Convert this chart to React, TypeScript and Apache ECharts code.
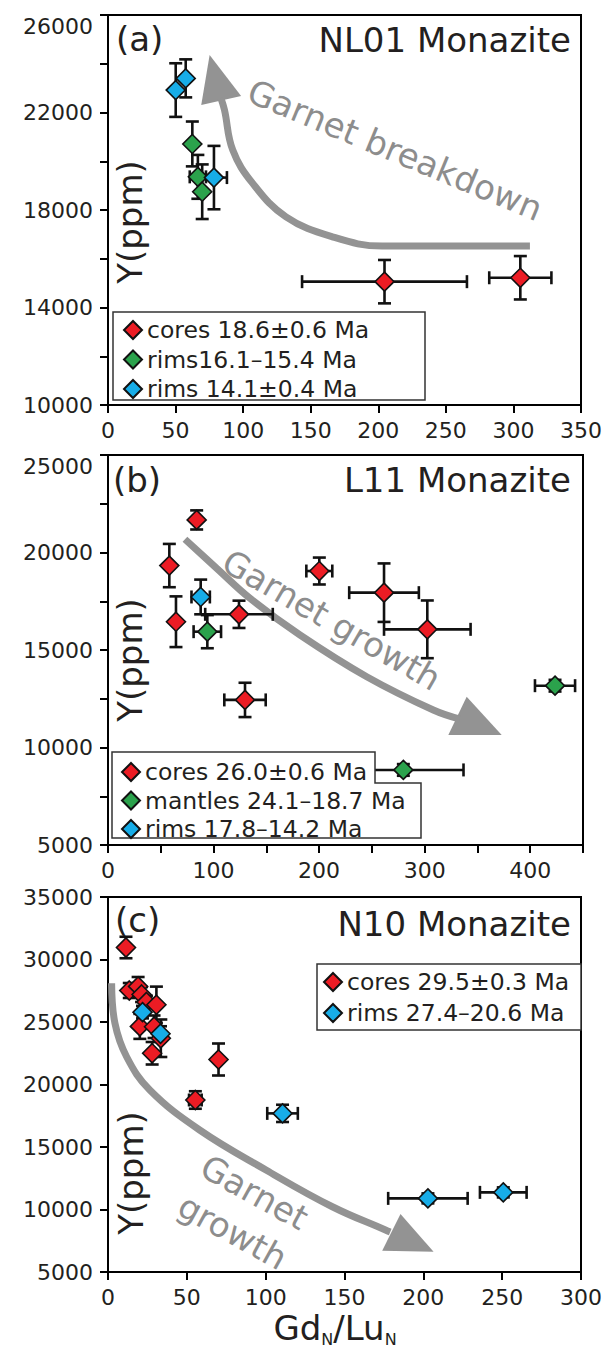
import React, { useEffect, useRef } from "react";
import * as echarts from "echarts";

const FONT = "DejaVu Sans";
const INK = "#231f20";
const RED = "#ec1c24";
const GREEN = "#2ba24c";
const BLUE = "#17ade8";
const ARROW = "#939393";
const ARROW_TEXT = "#8d8d8d";

// rows: [GdN/LuN, Y (ppm), ±GdN/LuN, ±Y]
// ---- (a) NL01 Monazite
const aCoresName = "cores 18.6±0.6 Ma";
const aRimsGName = "rims16.1–15.4 Ma";
const aRimsBName = "rims 14.1±0.4 Ma";
const aCores = [
  [204.6, 15060, 61, 890],
  [305.1, 15220, 23, 890],
];
const aRimsG = [
  [62.4, 20710, 0, 920],
  [66.5, 19360, 6, 900],
  [69.7, 18750, 0, 1120],
];
const aRimsB = [
  [50.1, 22920, 0, 1100],
  [57.5, 23400, 0, 780],
  [78.4, 19330, 9.6, 1300],
];
const aArrow = [
  [312.2, 16520], [202.9, 16520], [166, 16900], [131.7, 17720],
  [107.1, 19090], [92.3, 20460], [86.2, 22100], [83.5, 22600],
];
const aArrowHead = [[75.2, 24360], [69, 22310], [98.5, 22680]];
const aArrowLabel = { text: "Garnet breakdown", at: [212.5, 20460], angle: -22.5 };

// ---- (b) L11 Monazite
const bCoresName = "cores 26.0±0.6 Ma";
const bMantlesName = "mantles 24.1–18.7 Ma";
const bRimsName = "rims 17.8–14.2 Ma";
const bCores = [
  [84.0, 21670, 0, 490],
  [58.1, 19330, 0, 1110],
  [64.4, 16450, 0, 1300],
  [124.1, 16830, 32, 700],
  [129.8, 12440, 19.6, 880],
  [200.2, 19050, 12.3, 690],
  [261.5, 17940, 33, 1500],
  [302.5, 16060, 41, 1480],
];
const bMantles = [
  [94.1, 15940, 13, 850],
  [423.5, 13170, 19, 300],
  [279.8, 8850, 57, 300],
];
const bRims = [[87.8, 17720, 8.7, 890]];
const bArrow = [
  [72.9, 20680], [103, 19190], [134.5, 17650], [181.9, 15770],
  [245.1, 13630], [308.2, 11920], [333.5, 11450],
];
const bArrowHead = [[339.8, 12600], [373, 10640], [322.4, 10640]];
const bArrowLabel = { text: "Garnet growth", at: [212, 16540], angle: -30 };

// ---- (c) N10 Monazite
const cCoresName = "cores 29.5±0.3 Ma";
const cRimsName = "rims 27.4–20.6 Ma";
const cCores = [
  [11.4, 30960, 0, 860],
  [13.5, 27520, 0, 600],
  [19.1, 27850, 0, 750],
  [21.3, 27200, 0, 600],
  [24.4, 26600, 0, 500],
  [30.7, 26380, 0, 1450],
  [20.2, 24650, 0, 1000],
  [29.2, 24620, 0, 900],
  [33.5, 23700, 0, 1500],
  [28.0, 22500, 0, 900],
  [70.1, 22000, 0, 1280],
  [55.4, 18760, 4, 700],
];
const cRims = [
  [21.9, 25790, 0, 500],
  [33.3, 24060, 0, 600],
  [110.7, 17690, 9.7, 690],
  [202.9, 10890, 25.2, 400],
  [250.7, 11370, 14.8, 400],
];
const cArrow = [
  [2.3, 28100], [4.4, 24900], [11.8, 22220], [26.5, 19560], [58.1, 16360],
  [100.2, 13160], [142.3, 10220], [176, 8360], [179, 8200],
];
const cArrowHead = [[185.5, 9640], [206.5, 6620], [173.9, 6700]];
const cArrowLabel = { text: "Garnet\ngrowth", at: [86, 9800], angle: -29 };

// axis ranges: [min, max, tick step, label step]
const aX = [0, 350, 50, 50];
const aY = [10000, 26000, 2000, 4000];
const bX = [0, 450, 50, 100];
const bY = [5000, 25000, 2500, 5000];
const cX = [0, 300, 50, 50];
const cY = [5000, 35000, 5000, 5000];

const titles = ["NL01 Monazite", "L11 Monazite", "N10 Monazite"];
const tags = ["(a)", "(b)", "(c)"];

function errRender(params: any, api: any) {
  const x = api.value(0), y = api.value(1), ex = api.value(2), ey = api.value(3);
  const c = api.coord([x, y]);
  const cap = 6.5;
  const style = { stroke: "#111", lineWidth: 2.6 };
  const kids: any[] = [];
  const seg = (x1: number, y1: number, x2: number, y2: number) =>
    kids.push({ type: "line", shape: { x1, y1, x2, y2 }, style });
  if (ey > 0) {
    const t = api.coord([x, y + ey])[1];
    const b = api.coord([x, y - ey])[1];
    seg(c[0], t, c[0], b);
    seg(c[0] - cap, t, c[0] + cap, t);
    seg(c[0] - cap, b, c[0] + cap, b);
  }
  if (ex > 0) {
    const l = api.coord([x - ex, y])[0];
    const r = api.coord([x + ex, y])[0];
    seg(l, c[1], r, c[1]);
    seg(l, c[1] - cap, l, c[1] + cap);
    seg(r, c[1] - cap, r, c[1] + cap);
  }
  return { type: "group", children: kids };
}

function group(gi: number, name: string, color: string, data: number[][]) {
  return [
    {
      type: "custom", name: name + " error", xAxisIndex: gi, yAxisIndex: gi,
      data, encode: { x: 0, y: 1 }, renderItem: errRender, z: 3, silent: true,
    },
    {
      type: "scatter", name, xAxisIndex: gi, yAxisIndex: gi,
      data: data.map((d) => [d[0], d[1]]), symbol: "diamond", symbolSize: 19,
      itemStyle: { color, borderColor: "#111", borderWidth: 1.6, opacity: 1 },
      z: 4,
    },
  ];
}

function arrow(gi: number, body: number[][], head: number[][], label: any) {
  return [
    {
      type: "line", xAxisIndex: gi, yAxisIndex: gi, data: body, smooth: 0.4,
      symbol: "none", lineStyle: { color: ARROW, width: 7 }, silent: true, z: 1,
    },
    {
      type: "custom", xAxisIndex: gi, yAxisIndex: gi, data: [head[0]], silent: true, z: 1,
      renderItem: (p: any, api: any) => ({
        type: "polygon",
        shape: { points: head.map((pt) => api.coord(pt)) },
        style: { fill: ARROW },
      }),
    },
    {
      type: "custom", xAxisIndex: gi, yAxisIndex: gi, data: [label.at], silent: true, z: 1,
      renderItem: (p: any, api: any) => {
        const c = api.coord([api.value(0), api.value(1)]);
        return {
          type: "text", x: c[0], y: c[1], rotation: (label.angle * Math.PI) / 180,
          style: {
            text: label.text, fontSize: 34, fontFamily: FONT, fill: ARROW_TEXT,
            align: "center", verticalAlign: "middle", textAlign: "center",
            textVerticalAlign: "middle", lineHeight: 45,
          },
        };
      },
    },
  ];
}

function axisPair(gi: number, xr: number[], yr: number[], dropTop: boolean) {
  const line = { show: true, lineStyle: { color: "#000", width: 2 } };
  const tick = { show: true, inside: false, length: 8, lineStyle: { color: "#000", width: 2 } };
  const lab = { fontSize: 22, fontFamily: FONT, color: INK };
  return {
    x: {
      type: "value", gridIndex: gi, min: xr[0], max: xr[1], interval: xr[2],
      axisLine: line, axisTick: tick, splitLine: { show: false },
      axisLabel: { ...lab, margin: 14, formatter: (v: number) => ((v - xr[0]) % xr[3] === 0 ? String(v) : "") },
    },
    y: {
      type: "value", gridIndex: gi, min: yr[0], max: yr[1], interval: yr[2],
      axisLine: line, axisTick: tick, splitLine: { show: false },
      axisLabel: {
        ...lab, margin: 15,
        ...(dropTop ? { verticalAlignMaxLabel: "top" } : {}),
        formatter: (v: number) => ((v - yr[0]) % yr[3] === 0 ? String(v) : ""),
      },
    },
  };
}

const grids = [
  { left: 108, top: 15, width: 475, height: 390 },
  { left: 108, top: 455, width: 475, height: 390 },
  { left: 108, top: 897, width: 475, height: 375 },
];

function txt(x: number, y: number, text: string, align: string, extra: any = {}) {
  return {
    type: "text", x, y, z: 8, ...extra,
    style: {
      text, fontSize: 34, fontFamily: FONT, fill: INK,
      align, verticalAlign: "middle", textAlign: align, textVerticalAlign: "middle",
    },
  };
}

export default function App() {
  const ref = useRef<HTMLDivElement>(null);
  useEffect(() => {
    const chart = echarts.init(ref.current!, null, { renderer: "svg" });
    const pa = axisPair(0, aX, aY, true);
    const pb = axisPair(1, bX, bY, true);
    const pc = axisPair(2, cX, cY, false);
    const legendBase = {
      orient: "vertical", icon: "diamond", itemWidth: 18, itemHeight: 18,
      selectedMode: false, z: 9, padding: 0,
      textStyle: { fontSize: 23.5, fontFamily: FONT, color: INK },
    };
    const boxStyle = { fill: "#fff", stroke: "#333", lineWidth: 1.5 };
    chart.setOption({
      animation: false,
      grid: grids.map((g) => ({ ...g, show: true, borderColor: "#000", borderWidth: 2, backgroundColor: "transparent" })),
      xAxis: [pa.x, pb.x, pc.x],
      yAxis: [pa.y, pb.y, pc.y],
      legend: [
        { ...legendBase, left: 123, top: 318, itemGap: 5.5, data: [aCoresName, aRimsGName, aRimsBName] },
        { ...legendBase, left: 121, top: 760, itemGap: 4.5, data: [bCoresName, bMantlesName, bRimsName] },
        { ...legendBase, left: 323, top: 970, itemGap: 7, data: [cCoresName, cRimsName] },
      ],
      graphic: [
        { type: "rect", z: 7, shape: { x: 113, y: 312, width: 312, height: 88 }, style: boxStyle },
        {
          type: "polygon", z: 7,
          shape: { points: [[112, 752], [375, 752], [375, 783], [421, 783], [421, 838], [112, 838]] },
          style: boxStyle,
        },
        { type: "rect", z: 7, shape: { x: 317, y: 964, width: 264, height: 66 }, style: boxStyle },
        txt(571, 40, titles[0], "right"),
        txt(571, 480, titles[1], "right"),
        txt(571, 924, titles[2], "right"),
        txt(116, 39, tags[0], "left"),
        txt(113, 480, tags[1], "left"),
        txt(115, 920, tags[2], "left"),
        txt(130, 222, "Y(ppm)", "center", { rotation: Math.PI / 2 }),
        txt(130, 660, "Y(ppm)", "center", { rotation: Math.PI / 2 }),
        txt(131, 1173, "Y(ppm)", "center", { rotation: Math.PI / 2 }),
        {
          type: "text", x: 335, y: 1328, z: 8,
          style: {
            text: "{m|Gd}{s|N}{m|/Lu}{s|N}",
            align: "center", verticalAlign: "middle", textAlign: "center", textVerticalAlign: "middle",
            rich: {
              m: { fontSize: 34, fontFamily: FONT, fill: INK, lineHeight: 40 },
              s: { fontSize: 16, fontFamily: FONT, fill: INK, lineHeight: 16, padding: [22, 0, 0, 0] },
            },
          },
        },
      ],
      series: [
        ...arrow(0, aArrow, aArrowHead, aArrowLabel),
        ...group(0, aCoresName, RED, aCores),
        ...group(0, aRimsGName, GREEN, aRimsG),
        ...group(0, aRimsBName, BLUE, aRimsB),
        ...arrow(1, bArrow, bArrowHead, bArrowLabel),
        ...group(1, bCoresName, RED, bCores),
        ...group(1, bMantlesName, GREEN, bMantles),
        ...group(1, bRimsName, BLUE, bRims),
        ...arrow(2, cArrow, cArrowHead, cArrowLabel),
        ...group(2, cCoresName, RED, cCores),
        ...group(2, cRimsName, BLUE, cRims),
      ],
    });
    return () => chart.dispose();
  }, []);
  return <div ref={ref} style={{ position: "absolute", left: 0, top: 0, width: 605, height: 1348 }} />;
}
